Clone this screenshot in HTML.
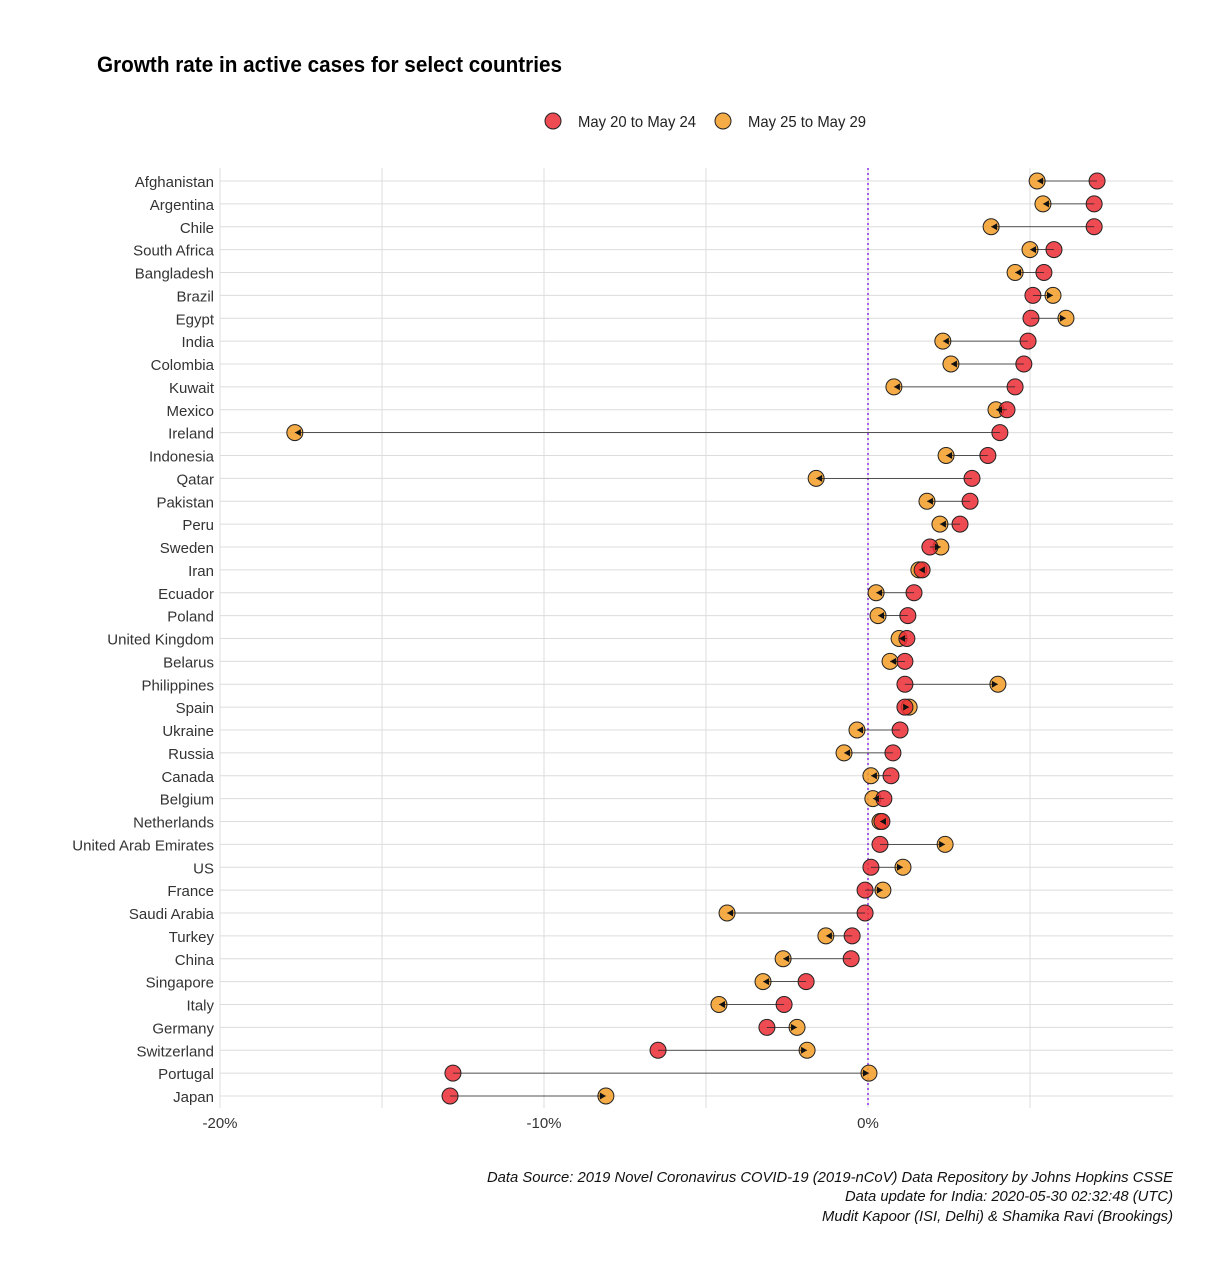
<!DOCTYPE html>
<html><head><meta charset="utf-8"><style>
body{margin:0;background:#fff;font-family:"Liberation Sans",sans-serif;}
</style></head><body>
<svg id="chart" width="1228" height="1280" xmlns="http://www.w3.org/2000/svg" font-family="Liberation Sans, sans-serif">
<text x="97" y="72" font-size="22" font-weight="bold" fill="#000" textLength="465" lengthAdjust="spacingAndGlyphs">Growth rate in active cases for select countries</text>
<g>
<circle cx="553" cy="121" r="8" fill="#ec2b35" fill-opacity="0.85" stroke="#222" stroke-width="1"/>
<text x="578" y="127" font-size="16" fill="#222" textLength="118" lengthAdjust="spacingAndGlyphs">May 20 to May 24</text>
<circle cx="723" cy="121" r="8" fill="#f39c26" fill-opacity="0.85" stroke="#222" stroke-width="1"/>
<text x="748" y="127" font-size="16" fill="#222" textLength="118" lengthAdjust="spacingAndGlyphs">May 25 to May 29</text>
</g>
<g id="plot"></g>
<g font-size="15" font-style="italic" fill="#111" text-anchor="end">
<text x="1173" y="1182" textLength="686" lengthAdjust="spacingAndGlyphs">Data Source: 2019 Novel Coronavirus COVID-19 (2019-nCoV) Data Repository by Johns Hopkins CSSE</text>
<text x="1173" y="1201" textLength="328" lengthAdjust="spacingAndGlyphs">Data update for India: 2020-05-30 02:32:48 (UTC)</text>
<text x="1173" y="1221" textLength="351" lengthAdjust="spacingAndGlyphs">Mudit Kapoor (ISI, Delhi) &amp; Shamika Ravi (Brookings)</text>
</g>
</svg>
<script>
const countries=["Afghanistan","Argentina","Chile","South Africa","Bangladesh","Brazil","Egypt","India","Colombia","Kuwait","Mexico","Ireland","Indonesia","Qatar","Pakistan","Peru","Sweden","Iran","Ecuador","Poland","United Kingdom","Belarus","Philippines","Spain","Ukraine","Russia","Canada","Belgium","Netherlands","United Arab Emirates","US","France","Saudi Arabia","Turkey","China","Singapore","Italy","Germany","Switzerland","Portugal","Japan"];
const may20=[7.07,6.98,6.98,5.74,5.43,5.09,5.03,4.94,4.81,4.54,4.29,4.07,3.70,3.21,3.15,2.84,1.91,1.67,1.42,1.23,1.20,1.14,1.14,1.14,0.99,0.77,0.71,0.49,0.43,0.37,0.09,-0.09,-0.09,-0.49,-0.52,-1.91,-2.59,-3.12,-6.48,-12.81,-12.90];
const may25=[5.22,5.40,3.80,5.00,4.54,5.71,6.11,2.31,2.56,0.80,3.95,-17.69,2.41,-1.60,1.82,2.22,2.25,1.57,0.25,0.31,0.96,0.68,4.01,1.27,-0.34,-0.74,0.09,0.15,0.37,2.38,1.08,0.46,-4.35,-1.30,-2.62,-3.24,-4.60,-2.19,-1.88,0.03,-8.09];
const xTicks=[-20,-10,0];
const xGrid=[-20,-15,-10,-5,0,5];
const NS="http://www.w3.org/2000/svg";
const L=220,R=1173,T=168,B=1108;
const x=v=>868+v*32.4;
const y=i=>181+i*22.875;
const g=document.getElementById('plot');
function mk(t,a){const e=document.createElementNS(NS,t);for(const k in a)e.setAttribute(k,a[k]);g.appendChild(e);return e;}
xGrid.forEach(v=>{const e=mk('line',{x1:x(v),x2:x(v),y1:T,y2:B,stroke:'#dcdcdc','stroke-width':1});

});
countries.forEach((c,i)=>{const e=mk('line',{x1:L,x2:R,y1:y(i),y2:y(i),stroke:'#dcdcdc','stroke-width':1});


const t=mk('text',{x:214,y:y(i)+6,'font-size':15,'text-anchor':'end',fill:'#333'});t.textContent=c;

});
xTicks.forEach(v=>{const t=mk('text',{x:x(v),y:1128,'font-size':15,'text-anchor':'middle',fill:'#333'});t.textContent=v+'%';

});
const z=mk('line',{x1:x(0),x2:x(0),y1:T,y2:B,stroke:'#8a2be2','stroke-width':1.5,'stroke-dasharray':'2,3'});


countries.forEach((c,i)=>{
const o=mk('circle',{cx:x(may25[i]),cy:y(i),r:8,fill:'#f39c26','fill-opacity':0.85,stroke:'#222','stroke-width':1});


const r=mk('circle',{cx:x(may20[i]),cy:y(i),r:8,fill:'#ec2b35','fill-opacity':0.85,stroke:'#222','stroke-width':1});


const x1=x(may20[i]),x2=x(may25[i]),yy=y(i);
const ln=mk('line',{x1:x1,x2:x2,y1:yy,y2:yy,stroke:'#222','stroke-width':0.8});


const d=x2>=x1?1:-1;
const ah=mk('polygon',{points:`${x2},${yy} ${x2-d*6},${yy-3.5} ${x2-d*6},${yy+3.5}`,fill:'#111'});


});
</script>
</body></html>
